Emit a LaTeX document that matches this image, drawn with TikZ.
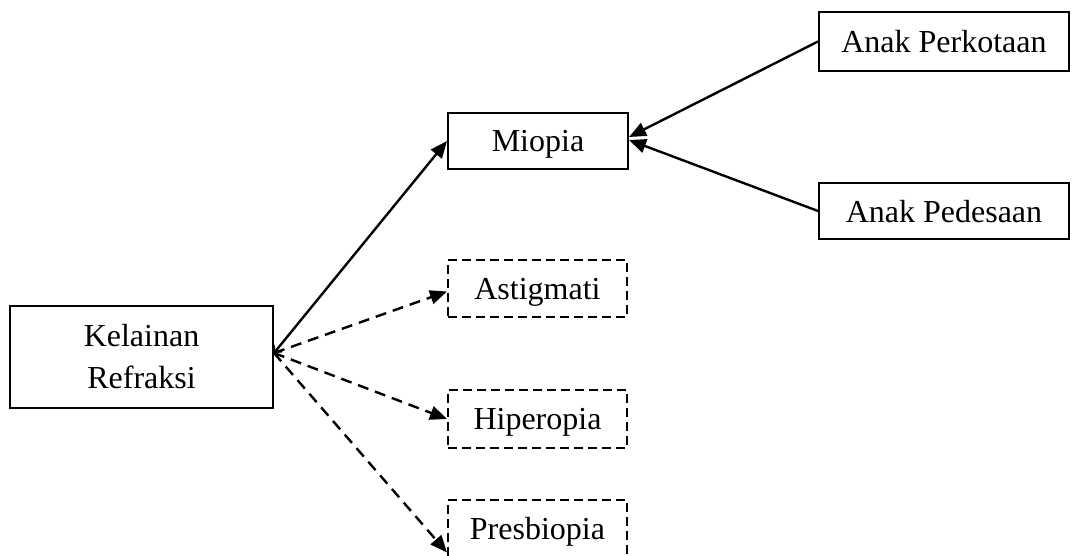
\documentclass[tikz,border=0pt]{standalone}
\usepackage{fontspec}
\setmainfont{Liberation Serif}
\usetikzlibrary{arrows.meta}
\begin{document}
\begin{tikzpicture}[x=1pt,y=-1pt,
  every node/.style={font=\fontsize{32}{42}\selectfont, inner sep=0pt, align=center},
  oneline/.style={text depth=0pt},
  solidbox/.style={draw, line width=2pt},
  dashbox/.style={draw, line width=2pt, dash pattern=on 9pt off 5pt, oneline},
  link/.style={line width=2.4pt, -{Triangle[length=17pt,width=14pt]}},
  dlink/.style={link, dash pattern=on 11pt off 7pt}]
\useasboundingbox (0,0) rectangle (1072,555);
\node[solidbox, minimum width=263pt, minimum height=102pt] (kel) at (141.5,356.5) {Kelainan\\Refraksi};
\node[solidbox, oneline, minimum width=180pt, minimum height=56pt] (mio) at (538,141) {Miopia};
\node[solidbox, oneline, minimum width=250pt, minimum height=59pt] (perk) at (944,41.5) {Anak Perkotaan};
\node[solidbox, oneline, minimum width=250pt, minimum height=56pt] (pede) at (944,211) {Anak Pedesaan};
\node[dashbox, minimum width=179pt, minimum height=57pt] (ast) at (537.5,288.5) {Astigmati};
\node[dashbox, minimum width=179pt, minimum height=58pt] (hip) at (537.5,419) {Hiperopia};
\node[dashbox, minimum width=179pt, minimum height=57pt] (pres) at (537.5,528.5) {Presbiopia};
\coordinate (k) at ([yshift=3.5pt]kel.east);
\draw[link, {Straight Barb[length=5pt,width=11pt,line width=1.8pt]}-{Triangle[length=17pt,width=14pt]}] (k) -- (mio.west);
\draw[dlink] (k) -- ([yshift=-3pt]ast.west);
\draw[dlink] (k) -- (hip.west);
\draw[dlink] (k) -- ([yshift=-24pt]pres.west);
\draw[link] (perk.west) -- ([yshift=4pt]mio.east);
\draw[link] (pede.west) -- ([yshift=1pt]mio.east);
\end{tikzpicture}
\end{document}
